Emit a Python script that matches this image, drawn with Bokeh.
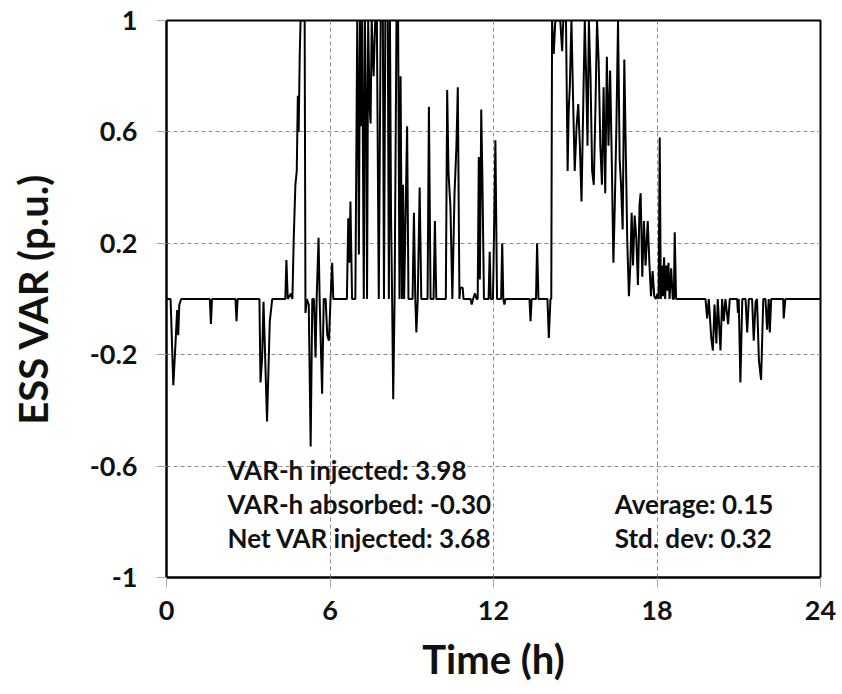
from bokeh.plotting import figure
from bokeh.models import FixedTicker, Label
from bokeh.embed import file_html
from bokeh.resources import INLINE

# ---- data (time in hours, ESS VAR in p.u.) ----
t_hours = [
    0.00, 0.15, 0.25, 0.33, 0.39, 0.43, 0.47, 0.54,
    1.59, 1.63, 1.67,
    2.53, 2.57, 2.61,
    3.41, 3.45, 3.51, 3.56, 3.69, 3.79, 3.88,
    4.36, 4.40, 4.45, 4.57, 4.62, 4.67, 4.73, 4.78, 4.82, 4.85, 4.89, 4.92, 5.07,
    5.10, 5.15, 5.22, 5.29, 5.35, 5.41, 5.47, 5.51, 5.58, 5.62, 5.71, 5.77, 5.84,
    5.90, 5.96, 6.02, 6.08, 6.12,
    6.62, 6.67, 6.71, 6.75, 6.81,
    6.93, 7.00, 7.03, 7.06, 7.10, 7.14, 7.18, 7.24, 7.28, 7.33, 7.36, 7.40, 7.45,
    7.49, 7.53, 7.60, 7.66, 7.72, 7.79, 7.83, 7.86, 7.94, 7.98, 8.03, 8.12, 8.16,
    8.20, 8.24, 8.28, 8.32, 8.37, 8.44, 8.50, 8.55, 8.59, 8.64, 8.68, 8.72, 8.83, 8.88,
    9.03, 9.08, 9.13, 9.17, 9.22, 9.29, 9.35, 9.58, 9.63, 9.69, 9.80, 9.85, 9.90,
    10.25, 10.30, 10.35, 10.42, 10.49, 10.57, 10.64, 10.69, 10.75, 10.78, 10.87, 10.90,
    11.16, 11.20, 11.25, 11.32, 11.38, 11.42, 11.46, 11.50, 11.55, 11.59, 11.65,
    11.82, 11.86, 11.90, 11.98, 12.03, 12.07, 12.13,
    12.28, 12.32, 12.36, 12.40, 12.44,
    13.32, 13.36, 13.40,
    13.56, 13.60, 13.65,
    13.98, 14.03, 14.09, 14.12, 14.15,
    14.21, 14.27, 14.45, 14.52, 14.56, 14.66, 14.72, 14.76, 14.80, 14.86, 14.92,
    14.98, 15.05, 15.11, 15.17, 15.23, 15.29, 15.35, 15.40, 15.45, 15.50, 15.56,
    15.62, 15.68, 15.74, 15.80, 15.86, 15.92, 15.98, 16.04, 16.10, 16.16, 16.22,
    16.28, 16.34, 16.40, 16.45, 16.51, 16.57, 16.63, 16.68, 16.74, 16.80, 16.86,
    16.91, 16.97, 17.02, 17.07, 17.12, 17.18, 17.24, 17.30, 17.36, 17.40, 17.46,
    17.52, 17.58, 17.66, 17.72, 17.78, 17.84, 17.90, 17.96, 18.02, 18.06,
    18.10, 18.14, 18.18, 18.22, 18.26, 18.30, 18.34, 18.38, 18.42, 18.46, 18.52,
    18.58, 18.62, 18.65, 18.70,
    19.78, 19.84, 19.90, 19.99, 20.05, 20.11, 20.18, 20.23, 20.33, 20.39, 20.45,
    20.51, 20.61, 20.67, 20.94, 20.97, 21.00, 21.06, 21.13, 21.25, 21.31, 21.37,
    21.49, 21.55, 21.62, 21.67, 21.74, 21.82, 21.90, 21.98, 22.04, 22.10, 22.14,
    22.19, 22.63, 22.65, 22.71,
    24.00,
]
ess_var_pu = [
    0.0, 0.0, -0.31, -0.16, -0.04, -0.13, -0.02, 0.0,
    0.0, -0.09, 0.0,
    0.0, -0.08, 0.0,
    0.0, -0.30, -0.21, -0.01, -0.44, -0.08, 0.0,
    0.0, 0.14, 0.0, 0.02, 0.0, 0.22, 0.41, 0.46, 0.73, 0.60, 0.88, 1.0, 1.0,
    -0.05, 0.0, -0.02, -0.53, 0.0, 0.0, -0.21, 0.0, 0.22, 0.0, -0.34, 0.0, 0.0,
    -0.13, -0.15, 0.0, 0.13, 0.0,
    0.0, 0.29, 0.13, 0.35, 0.0,
    0.0, 1.0, 0.68, 0.16, 1.0, 0.62, 1.0, 0.0, 1.0, 0.65, 0.0, 1.0, 0.70,
    0.63, 1.0, 0.80, 1.0, 1.0, 0.0, 0.56, 1.0, 1.0, 0.0, 1.0, 1.0, 0.0,
    1.0, 0.30, 0.0, -0.36, 0.0, 1.0, 1.0, 0.0, 0.80, 0.0, 0.41, 0.0, 0.62, 0.0,
    0.0, 0.31, 0.0, -0.12, 0.0, 0.40, 0.0, 0.0, 0.69, 0.0, 0.0, 0.28, 0.0,
    0.0, 0.75, 0.45, 0.33, 0.0, 0.38, 0.55, 0.76, 0.0, 0.04, 0.04, 0.0,
    0.0, -0.02, 0.0, 0.02, 0.0, 0.0, 0.51, 0.07, 0.68, 0.45, 0.0,
    0.0, 0.17, 0.0, 0.0, 0.30, 0.57, 0.0,
    0.0, 0.20, 0.0, -0.02, 0.0,
    0.0, -0.08, 0.0,
    0.0, 0.20, 0.0,
    0.0, -0.14, 0.0, 0.0, 1.0,
    0.88, 1.0, 1.0, 0.89, 1.0, 1.0, 0.46, 0.68, 0.76, 1.0, 0.72,
    0.46, 0.62, 0.70, 0.55, 0.35, 0.68, 1.0, 0.80, 0.55, 1.0, 0.80,
    0.46, 0.41, 0.68, 1.0, 0.85, 0.55, 0.41, 0.76, 0.38, 0.87, 0.55,
    0.82, 0.50, 0.13, 0.33, 0.62, 1.0, 0.50, 0.41, 0.25, 0.86, 0.50,
    0.20, 0.01, 0.12, 0.31, 0.12, 0.30, 0.22, 0.05, 0.34, 0.38, 0.08,
    0.28, 0.12, 0.28, 0.13, 0.01, 0.10, 0.01, 0.0, 0.02, 0.0,
    0.58, 0.0, 0.12, 0.01, 0.15, 0.0, 0.12, 0.03, 0.13, 0.0, 0.11,
    0.0, 0.0, 0.24, 0.0,
    0.0, -0.07, 0.0, -0.14, -0.185, -0.02, -0.16, 0.0, -0.185, 0.0, -0.08,
    0.0, -0.09, 0.0, 0.0, -0.05, 0.0, -0.30, 0.0, 0.0, -0.12, 0.0,
    0.0, -0.15, -0.01, 0.0, -0.22, -0.29, 0.0, 0.0, -0.11, 0.0, -0.12,
    0.0, 0.0, -0.07, 0.0,
    0.0,
]

x_ticks = [0, 6, 12, 18, 24]
x_tick_labels = ["0", "6", "12", "18", "24"]
y_ticks = [-1, -0.6, -0.2, 0.2, 0.6, 1]
y_tick_labels = ["-1", "-0.6", "-0.2", "0.2", "0.6", "1"]
x_grid = [6, 12, 18]
y_grid = [-0.6, -0.2, 0.2, 0.6]

left_notes = ["VAR-h injected: 3.98", "VAR-h absorbed: -0.30", "Net VAR injected: 3.68"]
right_notes = ["Average: 0.15", "Std. dev: 0.32"]

FONT = "Lato"

p = figure(width=842, height=694, x_range=(0, 24), y_range=(-1, 1),
           output_backend="svg", toolbar_location=None,
           min_border_left=166, min_border_right=22,
           min_border_top=20, min_border_bottom=117)

p.line(t_hours, ess_var_pu, line_color="black", line_width=2)

# axes
p.xaxis.ticker = FixedTicker(ticks=x_ticks)
p.yaxis.ticker = FixedTicker(ticks=y_ticks)
p.xaxis.major_label_overrides = {k: v for k, v in zip(x_ticks, x_tick_labels)}
p.yaxis.major_label_overrides = {k: v for k, v in zip(y_ticks, y_tick_labels)}
for ax in (p.xaxis, p.yaxis):
    ax.axis_line_color = "black"
    ax.axis_line_width = 2
    ax.major_tick_line_color = "#aaaaaa"
    ax.major_tick_out = 10
    ax.major_tick_in = 0
    ax.minor_tick_line_color = None
    ax.major_label_text_font = FONT
    ax.major_label_text_font_style = "bold"
    ax.major_label_text_font_size = "27px"
    ax.major_label_text_color = "#111111"
    ax.axis_label_text_font = FONT
    ax.axis_label_text_font_style = "bold"
    ax.axis_label_text_font_size = "40px"
    ax.axis_label_text_color = "#111111"
p.xaxis.axis_label = "Time (h)"
p.yaxis.axis_label = "ESS VAR (p.u.)"
p.xaxis.major_label_standoff = 13
p.yaxis.major_label_standoff = 19
p.xaxis.axis_label_standoff = 12
p.yaxis.axis_label_standoff = 30

# grid
p.xgrid.ticker = FixedTicker(ticks=x_grid)
p.ygrid.ticker = FixedTicker(ticks=y_grid)
for g in (p.xgrid, p.ygrid):
    g.grid_line_color = "#8c8c8c"
    g.grid_line_dash = "4 3"
    g.grid_line_width = 1

p.outline_line_color = "black"
p.outline_line_width = 2
p.background_fill_color = "white"
p.border_fill_color = "white"

# annotations
left_y = [-0.615, -0.735, -0.857]
for txt, yy in zip(left_notes, left_y):
    p.add_layout(Label(x=2.24, y=yy, text=txt, text_font=FONT, text_font_style="bold",
                       text_font_size="26px", text_baseline="middle", text_color="#111111"))
right_y = [-0.735, -0.857]
for txt, yy in zip(right_notes, right_y):
    p.add_layout(Label(x=16.45, y=yy, text=txt, text_font=FONT, text_font_style="bold",
                       text_font_size="26px", text_baseline="middle", text_color="#111111"))

open("out.html", "w").write(file_html(p, INLINE))
